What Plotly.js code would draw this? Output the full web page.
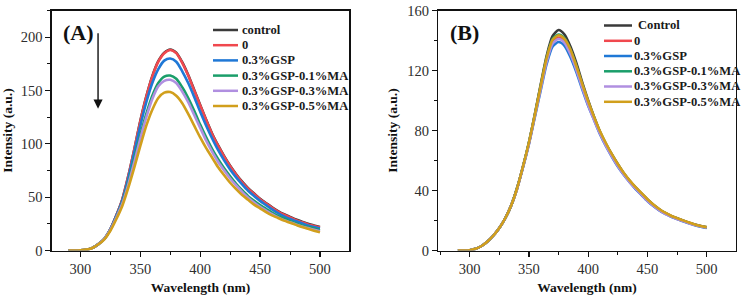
<!DOCTYPE html>
<html>
<head>
<meta charset="utf-8">
<script src="https://cdn.plot.ly/plotly-3.0.1.min.js"></script>
<style>
  html, body { margin: 0; padding: 0; background: #fff; }
  #chart { width: 745px; height: 303px; }
</style>
</head>
<body>
<div id="chart"></div>
<script>
// Emission wavelength grid (nm), shared by both panels
const wavelength = [290,295,300,305,310,315,320,325,330,335,340,345,350,355,360,365,370,375,380,385,390,395,400,405,410,415,420,425,430,435,440,445,450,455,460,465,470,475,480,485,490,495,500];

// Series labels and line colours
const namesA = ['control', '0', '0.3%GSP', '0.3%GSP-0.1%MA', '0.3%GSP-0.3%MA', '0.3%GSP-0.5%MA'];
const namesB = ['Control', '0', '0.3%GSP', '0.3%GSP-0.1%MA', '0.3%GSP-0.3%MA', '0.3%GSP-0.5%MA'];
const colors = ['#3a3a3a', '#f0484e', '#1f78d6', '#1a9e6a', '#b08fe0', '#d19f1c'];

// Panel (A) intensities
const a_control = [0,0,0.2,0.8,2.5,6,11,20,33,48,70,95,121.5,144.5,163.5,177.5,185.5,188.5,185.5,176.5,164.5,150.5,136.5,122.5,109.5,98.5,88.5,79.5,71.5,64.5,58.5,53.5,48.5,44.5,40.5,37,34,31.5,29,27,25,23.5,22];
const a_0       = [0,0,0.2,0.8,2.5,6,11,20,33,48,70,95,121,144,163,177,185,188,185,176,164,150,136,122,109,98,88,79,71,64,58,53,48,44,40,36.5,33.5,31,28.5,26.5,24.5,23,21.5];
const a_gsp     = [0,0,0.2,0.8,2.5,6,11,20,32.5,47,68,92,117,139,157,170,178,180,177,168,157,144,130,117,105,94,84.5,76,68.5,62,56,51,46.5,42.5,38.5,35,32,29.5,27.5,25.5,23.5,22,20.5];
const a_ma01    = [0,0,0.2,0.8,2.5,6,11,19.5,31.5,45,64,86,108,128,145,157,163,164,161,153,143,131,118,106,95,85.5,77,69.5,62.5,56.5,51,46.5,42.5,39,35.5,32.5,30,27.5,25.5,23.5,22,20.5,19];
const a_ma03    = [0,0,0.2,0.8,2.5,6,11,19.5,31,44,62,83,105,125,142,154,159,160,157,149,139,127,115,103,92.5,83,75,67.5,61,55,49.5,45,41,37.5,34,31,28.5,26.5,24.5,22.5,21,19.5,18];
const a_ma05    = [0,0,0.2,0.8,2.4,5.8,10.5,18.5,29.5,42,59,78,98,117,132,143,148,148.5,145,138,128,117,106,96,87,78,70.5,63.5,57.5,52,47.5,43,39.5,36,33,30.5,28,26,24,22,20.3,18.6,17];

// Panel (B) intensities
const b_control = [0,0,0.2,1.2,3,6,10,15,21.5,30,41.5,56,72,91,111,130,143,147,144,136,125,112,100,89,79,71,64,57.5,51.5,46.5,42,38,34,30.5,27.5,25,23,21.5,20,18.5,17.3,16.3,15.5];
const b_0       = [0,0,0.2,1.2,3,6,10,15,21.5,30,41.5,56,71.5,90,109,126.5,139,142,139.5,132,121.5,109.5,98,88,78.5,70.5,63.5,57,51,46,41.5,37.5,33.5,30,27,24.7,22.8,21.2,19.8,18.4,17.1,16.1,15.3];
const b_gsp     = [0,0,0.2,1.2,3,6,10,15,21.5,30,41.5,55.5,71,89,107,124.5,136,139,136.5,129,119,107.5,96.5,87,77.5,69.5,62.5,56,50.5,45.5,41,37,33,29.6,26.7,24.4,22.5,20.9,19.5,18.1,16.9,15.9,15];
const b_ma01    = [0,0,0.2,1.2,3,6,10,15,21.5,30,41.5,56,72,90.5,110,128.5,141,144,141.5,134,123,110.5,99,88.5,79,71,63.8,57.3,51.3,46.2,41.8,37.8,33.8,30.3,27.3,24.9,22.9,21.4,19.9,18.5,17.2,16.2,15.4];
const b_ma03    = [0,0,0.2,1.2,3,6,10,15,21.5,30,41,55.5,71,89.5,108,126,138,141,138.5,131,120.5,108.5,97,87,77.8,69.8,62.8,56.3,50.6,45.6,41.2,37.2,33.2,29.8,26.9,24.5,22.6,21,19.6,18.2,17,16,15.1];
const b_ma05    = [0,0,0.2,1.2,3,6,10,15,21.5,30,41.5,56,72,90.5,110,128.5,140.5,143.5,141,134,123,111,99.5,89,79.5,71.5,64.2,57.7,51.8,46.7,42.2,38.2,34.2,30.7,27.7,25.2,23.2,21.6,20.1,18.7,17.4,16.4,15.6];

const seriesA = [a_control, a_0, a_gsp, a_ma01, a_ma03, a_ma05];
const seriesB = [b_control, b_0, b_gsp, b_ma01, b_ma03, b_ma05];

const serif = 'Liberation Serif, Times New Roman, serif';
const W = 745, H = 303;
const px = v => v / W;           // horizontal pixel -> paper fraction
const py = v => 1 - v / H;       // vertical pixel -> paper fraction

const traces = [];
seriesA.forEach((ys, i) => traces.push({
  x: wavelength, y: ys, name: namesA[i], xaxis: 'x', yaxis: 'y',
  type: 'scatter', mode: 'lines', showlegend: false,
  line: { color: colors[i], width: 2.6, shape: 'spline', smoothing: 0.7 }
}));
seriesB.forEach((ys, i) => traces.push({
  x: wavelength, y: ys, name: namesB[i], xaxis: 'x2', yaxis: 'y2',
  type: 'scatter', mode: 'lines', showlegend: false,
  line: { color: colors[i], width: 2.6, shape: 'spline', smoothing: 0.7 }
}));

const tickFont = { family: serif, size: 14.5, color: '#2e2e2e' };
const titleFont = { family: serif, size: 13.5, color: '#111' };

function xAxis(domain, range, anchor) {
  return {
    domain, range, anchor,
    tickmode: 'linear', tick0: 300, dtick: 50,
    ticks: 'outside', ticklen: 5, tickwidth: 1.2, tickcolor: '#111',
    minor: { dtick: 25, tick0: 300, ticks: 'outside', ticklen: 3, tickwidth: 1, tickcolor: '#111' },
    showline: true, linecolor: '#111', linewidth: 1.3, mirror: true,
    showgrid: false, zeroline: false, tickfont: tickFont,
    title: { text: '<b>Wavelength (nm)</b>', font: titleFont, standoff: 6 },
    automargin: false
  };
}
function yAxis(domain, range, anchor, dtick) {
  return {
    domain, range, anchor,
    tickmode: 'linear', tick0: 0, dtick,
    ticks: 'outside', ticklen: 5, tickwidth: 1.2, tickcolor: '#111',
    minor: { dtick: dtick / 2, tick0: 0, ticks: 'outside', ticklen: 3, tickwidth: 1, tickcolor: '#111' },
    showline: true, linecolor: '#111', linewidth: 1.3, mirror: true,
    showgrid: false, zeroline: false, tickfont: tickFont,
    title: { text: '<b>Intensity (a.u.)</b>', font: titleFont, standoff: 6 },
    automargin: false
  };
}

const yDom = [py(250.5), py(10.5)];

const annotations = [
  { xref: 'paper', yref: 'paper', x: px(78), y: py(33), xanchor: 'center', yanchor: 'middle',
    text: '<b>(A)</b>', showarrow: false, font: { family: serif, size: 22, color: '#111' } },
  { xref: 'paper', yref: 'paper', x: px(464), y: py(33), xanchor: 'center', yanchor: 'middle',
    text: '<b>(B)</b>', showarrow: false, font: { family: serif, size: 22, color: '#111' } },
  // downward arrow showing the intensity decrease in panel (A)
  { xref: 'x', yref: 'y', axref: 'x', ayref: 'y', x: 314.7, y: 133, ax: 314.7, ay: 205,
    text: '', showarrow: true, arrowhead: 2, arrowsize: 1.3, arrowwidth: 1.4, arrowcolor: '#111' }
];
const shapes = [];

// Hand-placed legends (compact row spacing)
function addLegend(names, lineX0, lineX1, textX, rows, firstTextX) {
  names.forEach((n, i) => {
    shapes.push({ type: 'line', xref: 'paper', yref: 'paper',
      x0: px(lineX0), x1: px(lineX1), y0: py(rows[i]), y1: py(rows[i]),
      line: { color: colors[i], width: 2.5 } });
    annotations.push({ xref: 'paper', yref: 'paper',
      x: px(i === 0 && firstTextX ? firstTextX : textX), y: py(rows[i]),
      xanchor: 'left', yanchor: 'middle', showarrow: false,
      text: '<b>' + n + '</b>', font: { family: serif, size: 12.6, color: '#1a1a1a' } });
  });
}
addLegend(namesA, 213, 238, 240, [30, 45.2, 60.4, 75.6, 90.8, 106]);
addLegend(namesB, 604, 632, 632, [25.5, 40.8, 56, 71.3, 86.5, 101.8], 636);

const layout = {
  width: W, height: H,
  margin: { l: 0, r: 0, t: 0, b: 0 },
  paper_bgcolor: '#fff', plot_bgcolor: '#fff',
  showlegend: false,
  xaxis: xAxis([px(51.7), px(349.3)], [276, 524.5], 'y'),
  yaxis: yAxis(yDom, [0, 225], 'x', 50),
  xaxis2: xAxis([px(438.3), px(735.7)], [273.5, 524.5], 'y2'),
  yaxis2: yAxis(yDom, [0, 160], 'x2', 40),
  annotations, shapes
};

Plotly.newPlot('chart', traces, layout, { staticPlot: true, displayModeBar: false });
</script>
</body>
</html>
